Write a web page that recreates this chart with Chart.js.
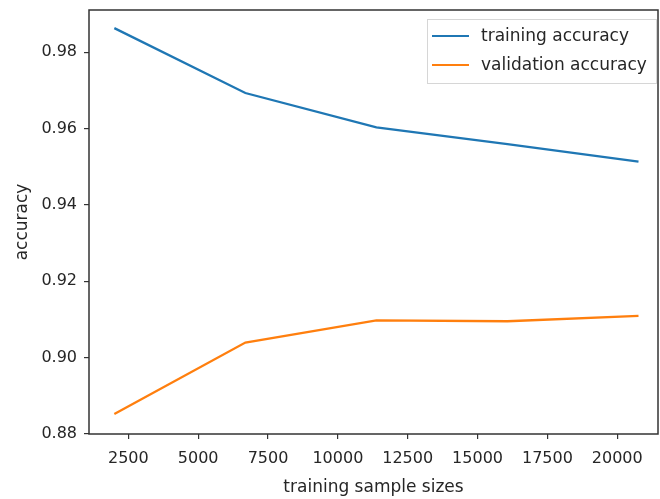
<!DOCTYPE html>
<html>
<head>
<meta charset="utf-8">
<script src="https://cdn.jsdelivr.net/npm/chart.js@4"></script>
<style>
  html, body { margin: 0; padding: 0; background: #fff; }
  #wrap { width: 660px; height: 499px; }
</style>
</head>
<body>
<div id="wrap"><canvas id="chart" width="660" height="499"></canvas></div>
<script>
const trainSizes = [2000, 6690, 11380, 16070, 20760];
const trainAcc = [0.9863, 0.9693, 0.9603, 0.9559, 0.9513];
const validAcc = [0.8852, 0.9039, 0.9097, 0.9095, 0.9109];
const xTicks = [2500, 5000, 7500, 10000, 12500, 15000, 17500, 20000];
const yTicks = [0.88, 0.90, 0.92, 0.94, 0.96, 0.98];

const FONT = "'DejaVu Sans', sans-serif";
const INK = '#262626';

// box around the axes, like matplotlib spines
const framePlugin = {
    id: 'frame',
    afterDraw(chart) {
        const { ctx, chartArea: a } = chart;
        ctx.save();
        ctx.strokeStyle = '#333';
        ctx.lineWidth = 1.5;
        ctx.strokeRect(a.left, a.top, a.right - a.left, a.bottom - a.top);
        ctx.restore();
    }
};

// legend in the upper right corner, inside the axes
const legendPlugin = {
    id: 'boxLegend',
    afterDraw(chart) {
        const { ctx, chartArea: a } = chart;
        const x = a.right - 231, y = a.top + 9, w = 229, h = 64;
        ctx.save();
        ctx.fillStyle = 'rgba(255,255,255,0.8)';
        ctx.fillRect(x, y, w, h);
        ctx.strokeStyle = '#d6d6d6';
        ctx.lineWidth = 1;
        ctx.strokeRect(x + 0.5, y + 0.5, w, h);
        ctx.font = '17px ' + FONT;
        ctx.textBaseline = 'middle';
        chart.data.datasets.forEach((ds, i) => {
            const ly = y + 17 + i * 29;
            ctx.strokeStyle = ds.borderColor;
            ctx.lineWidth = 2.2;
            ctx.beginPath();
            ctx.moveTo(x + 5, ly);
            ctx.lineTo(x + 42, ly);
            ctx.stroke();
            ctx.fillStyle = INK;
            ctx.fillText(ds.label, x + 54, ly + 1);
        });
        ctx.restore();
    }
};

new Chart(document.getElementById('chart'), {
    type: 'line',
    data: {
        labels: trainSizes,
        datasets: [
            {
                label: 'training accuracy',
                data: trainSizes.map((s, i) => ({ x: s, y: trainAcc[i] })),
                borderColor: '#1f77b4',
                borderWidth: 2.3,
                pointRadius: 0,
                tension: 0,
                fill: false
            },
            {
                label: 'validation accuracy',
                data: trainSizes.map((s, i) => ({ x: s, y: validAcc[i] })),
                borderColor: '#ff7f0e',
                borderWidth: 2.3,
                pointRadius: 0,
                tension: 0,
                fill: false
            }
        ]
    },
    options: {
        responsive: false,
        animation: false,
        layout: { padding: { top: 10, right: 2, left: 0, bottom: 0 } },
        plugins: { legend: { display: false }, tooltip: { enabled: false } },
        scales: {
            x: {
                type: 'linear',
                min: 1093,
                max: 21458,
                afterBuildTicks: s => { s.ticks = xTicks.map(v => ({ value: v })); },
                afterFit: s => { s.height = 65; s.paddingLeft = 0; s.paddingRight = 0; },
                border: { display: false },
                grid: { drawOnChartArea: false, drawTicks: true, tickLength: 5, color: '#333', lineWidth: 1.2 },
                ticks: {
                    color: INK,
                    font: { family: FONT, size: 16 },
                    padding: 10,
                    maxRotation: 0,
                    autoSkip: false,
                    callback: v => String(v)
                },
                title: {
                    display: true,
                    text: 'training sample sizes',
                    color: INK,
                    font: { family: FONT, size: 17 },
                    padding: { top: 0, bottom: 1 }
                }
            },
            y: {
                type: 'linear',
                min: 0.87995,
                max: 0.99105,
                afterBuildTicks: s => { s.ticks = yTicks.map(v => ({ value: v })); },
                afterFit: s => { s.width = 89; s.paddingTop = 0; s.paddingBottom = 0; },
                border: { display: false },
                grid: { drawOnChartArea: false, drawTicks: true, tickLength: 5, color: '#333', lineWidth: 1.2 },
                ticks: {
                    color: INK,
                    font: { family: FONT, size: 16 },
                    padding: 7,
                    autoSkip: false,
                    callback: v => v.toFixed(2)
                },
                title: {
                    display: true,
                    text: 'accuracy',
                    color: INK,
                    font: { family: FONT, size: 17 },
                    padding: { top: 12, bottom: 0 }
                }
            }
        }
    },
    plugins: [framePlugin, legendPlugin]
});
</script>
</body>
</html>
